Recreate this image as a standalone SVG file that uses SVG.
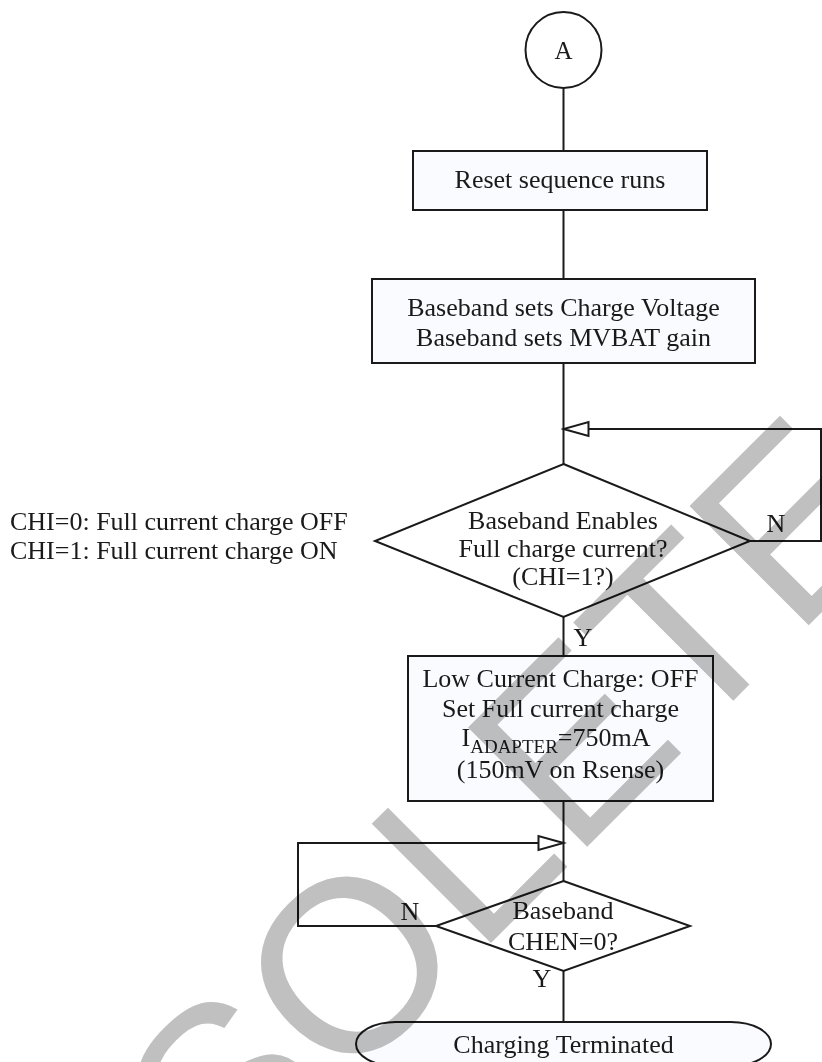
<svg xmlns="http://www.w3.org/2000/svg" width="822" height="1062" viewBox="0 0 822 1062">
<style>
.s{fill:none;stroke:#1a1a1a;stroke-width:2}
.b{fill:#f9fbfe;stroke:#1a1a1a;stroke-width:2}
.w{fill:#fff;stroke:#1a1a1a;stroke-width:2}
text{font-family:"Liberation Serif","Times New Roman",serif;font-size:26px;fill:#1a1a1a}
.c{text-anchor:middle}
</style>
<defs>
<marker id="ah" markerUnits="userSpaceOnUse" markerWidth="30" markerHeight="20" viewBox="-2 -10 30 20" refX="25" refY="0" orient="auto">
<path d="M25,0 L0,-7 L0,7 Z" fill="#fff" stroke="#1a1a1a" stroke-width="2"/>
</marker>
</defs>
<rect width="822" height="1062" fill="#fff"/>
<g id="connectors">
<path class="s" d="M563.5,88 V151"/>
<path class="s" d="M563.5,210 V279"/>
<path class="s" d="M563.5,363 V464"/>
<path class="s" d="M750,541 H821 V429 H563.5" marker-end="url(#ah)"/>
<path class="s" d="M563.5,617 V656"/>
<path class="s" d="M563.5,801 V881"/>
<path class="s" d="M436,926 H298 V843 H563.5" marker-end="url(#ah)"/>
<path class="s" d="M563.5,971 V1022"/>
<text x="776" y="532" class="c">N</text>
<text x="583" y="646" class="c">Y</text>
<text x="410" y="920" class="c">N</text>
<text x="542" y="987" class="c">Y</text>
</g>
<g id="start">
<circle class="w" cx="563.5" cy="50" r="38"/>
<text x="563.5" y="59" class="c" style="font-size:25px">A</text>
</g>
<g id="reset">
<rect class="b" x="413" y="151" width="294" height="59"/>
<text x="560" y="188" class="c">Reset sequence runs</text>
</g>
<g id="baseband-sets">
<rect class="b" x="372" y="279" width="383" height="84"/>
<text x="563.5" y="316" class="c">Baseband sets Charge Voltage</text>
<text x="563.5" y="346" class="c">Baseband sets MVBAT gain</text>
</g>
<g id="decision-chi">
<polygon class="w" points="563.5,464 750,541 563.5,617 375,541"/>
<text x="563" y="529" class="c">Baseband Enables</text>
<text x="563" y="557" class="c">Full charge current?</text>
<text x="563" y="585" class="c">(CHI=1?)</text>
</g>
<g id="chi-note">
<text x="10" y="530">CHI=0: Full current charge OFF</text>
<text x="10" y="559">CHI=1: Full current charge ON</text>
</g>
<g id="full-charge">
<rect class="b" x="408" y="656" width="305" height="145"/>
<text x="560.5" y="687" class="c">Low Current Charge: OFF</text>
<text x="560.5" y="717" class="c">Set Full current charge</text>
<text x="556" y="746" class="c">I<tspan dy="7" style="font-size:19px">ADAPTER</tspan><tspan dy="-7">=750mA</tspan></text>
<text x="560.5" y="778" class="c">(150mV on Rsense)</text>
</g>
<g id="decision-chen">
<polygon class="w" points="563.5,881 690,926 563.5,971 436,926"/>
<text x="563" y="919" class="c">Baseband</text>
<text x="563" y="950" class="c">CHEN=0?</text>
</g>
<g id="terminated">
<rect class="b" x="356" y="1022" width="415" height="44" rx="40" ry="22"/>
<text x="563.5" y="1053" class="c">Charging Terminated</text>
</g>
<g id="watermark" style="mix-blend-mode:multiply">
<text x="0" y="0" transform="translate(443,991) rotate(-45)" text-anchor="middle" style="font-family:'Liberation Sans',Arial,sans-serif;font-size:245px;fill:#c0c0c0">OBSOLETE</text>
</g>
</svg>
